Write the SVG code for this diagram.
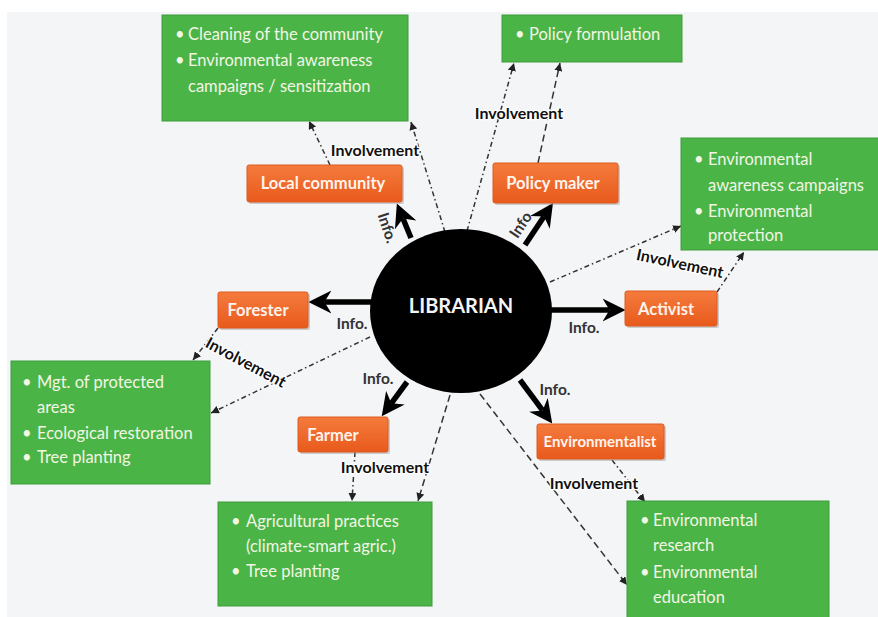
<svg xmlns="http://www.w3.org/2000/svg" width="878" height="617" viewBox="0 0 878 617">
<style>
.bg{fill:#f4f5f7}
.green rect{fill:#4bb447;stroke:#3f9c3b;stroke-width:1}
.green text{font-family:Lato,"Liberation Sans",sans-serif;font-size:16.5px;fill:#f2f6e4}
.orange .sh{fill:#9a9a9a;opacity:.45}
.orange .box{fill:url(#og);stroke:#e05a1e;stroke-width:1}
.orange text{font-family:Lato,"Liberation Sans",sans-serif;font-size:16.5px;font-weight:bold;fill:#fff4ec;text-anchor:middle}
.info{stroke:#000;stroke-width:5.5;fill:none;marker-end:url(#big)}
.inv{stroke:#333;stroke-width:1.5;fill:none;stroke-dasharray:5 3 1.5 3;marker-end:url(#small)}
.inv.d{stroke-dasharray:7 4}
.lbl{font-family:Lato,"Liberation Sans",sans-serif;font-size:16px;font-weight:bold;fill:#111;text-anchor:middle;stroke:#fff;stroke-width:2.5;paint-order:stroke}
.lbi{font-family:Lato,"Liberation Sans",sans-serif;font-size:15.5px;font-weight:bold;fill:#333;text-anchor:middle}
</style>
<defs>
<linearGradient id="og" x1="0" y1="0" x2="0" y2="1">
<stop offset="0" stop-color="#f47b3d"/>
<stop offset="1" stop-color="#e85a1c"/>
</linearGradient>
<marker id="big" viewBox="0 0 10 10" refX="3" refY="5" markerWidth="4.2" markerHeight="4.2" orient="auto" markerUnits="strokeWidth">
<path d="M0,0 L10,5 L0,10 L3,5 z" fill="#000"/>
</marker>
<marker id="small" viewBox="0 0 8 8" refX="8" refY="4" markerWidth="8" markerHeight="8" orient="auto" markerUnits="userSpaceOnUse">
<path d="M0,0 L8,4 L0,8 z" fill="#222"/>
</marker>
</defs>
<rect x="0" y="0" width="878" height="617" fill="#ffffff"/>
<rect class="bg" x="7" y="12" width="871" height="605"/>

<g id="connectors">
<line class="info" x1="411" y1="238" x2="403" y2="218.5"/>
<line class="info" x1="525" y1="245" x2="544" y2="216.5"/>
<line class="info" x1="375" y1="302" x2="324.5" y2="302"/>
<line class="info" x1="548" y1="310" x2="609.5" y2="310"/>
<line class="info" x1="407" y1="382" x2="391.3" y2="403.3"/>
<line class="info" x1="520" y1="380" x2="542.6" y2="410.4"/>

<line class="inv" x1="330" y1="165" x2="309" y2="121"/>
<line class="inv" x1="445" y1="232" x2="411" y2="122"/>
<line class="inv d" x1="538" y1="163" x2="560" y2="63"/>
<line class="inv" x1="467" y1="231" x2="514" y2="63"/>
<line class="inv" x1="550" y1="282" x2="681" y2="226"/>
<line class="inv" x1="717" y1="292" x2="744" y2="252"/>
<line class="inv" x1="218" y1="328" x2="193" y2="360"/>
<line class="inv" x1="370" y1="337" x2="211" y2="413"/>
<line class="inv" x1="355" y1="452" x2="352" y2="501"/>
<line class="inv d" x1="450" y1="395" x2="418" y2="501"/>
<line class="inv" x1="612" y1="460" x2="645" y2="502"/>
<line class="inv d" x1="480" y1="394" x2="627" y2="585"/>

<text class="lbi" x="387" y="233" transform="rotate(72 387 228)">Info.</text>
<text class="lbi" x="521" y="230" transform="rotate(-56 521 225)">Info</text>
<text class="lbi" x="352" y="329">Info.</text>
<text class="lbi" x="584" y="333">Info.</text>
<text class="lbi" x="378" y="384">Info.</text>
<text class="lbi" x="555" y="395">Info.</text>

<text class="lbl" x="375" y="156">Involvement</text>
<text class="lbl" x="519" y="119">Involvement</text>
<text class="lbl" x="680" y="269" transform="rotate(12 680 263)">Involvement</text>
<text class="lbl" x="246" y="368" transform="rotate(28 246 362)">Involvement</text>
<text class="lbl" x="385" y="473">Involvement</text>
<text class="lbl" x="594" y="489">Involvement</text>
</g>

<g id="librarian">
<ellipse cx="461" cy="311" rx="91" ry="82" fill="#000"/>
<text x="461" y="313" font-family="Lato,'Liberation Sans',sans-serif" font-size="20" font-weight="bold" fill="#f4f4f4" text-anchor="middle">LIBRARIAN</text>
</g>

<g id="local-community" class="orange">
<rect class="sh" x="249" y="167" width="155" height="37" rx="2"/>
<rect class="box" x="247" y="165" width="155" height="37" rx="2"/>
<text x="323" y="189">Local community</text>
</g>
<g id="policy-maker" class="orange">
<rect class="sh" x="495" y="165" width="125" height="40" rx="2"/>
<rect class="box" x="493" y="163" width="125" height="40" rx="2"/>
<text x="553" y="189">Policy maker</text>
</g>
<g id="activist" class="orange">
<rect class="sh" x="627" y="293" width="92" height="35" rx="2"/>
<rect class="box" x="625" y="291" width="92" height="35" rx="2"/>
<text x="666" y="315">Activist</text>
</g>
<g id="forester" class="orange">
<rect class="sh" x="220" y="294" width="90" height="36" rx="2"/>
<rect class="box" x="218" y="292" width="90" height="36" rx="2"/>
<text x="258" y="316">Forester</text>
</g>
<g id="farmer" class="orange">
<rect class="sh" x="300" y="419" width="90" height="35" rx="2"/>
<rect class="box" x="298" y="417" width="90" height="35" rx="2"/>
<text x="333" y="441">Farmer</text>
</g>
<g id="environmentalist" class="orange">
<rect class="sh" x="539" y="426" width="127" height="35" rx="2"/>
<rect class="box" x="537" y="424" width="127" height="35" rx="2"/>
<text x="600" y="447" style="font-size:15px">Environmentalist</text>
</g>

<g id="box-local" class="green">
<rect x="162" y="15" width="246" height="106"/>
<text x="175" y="40">•</text><text x="188" y="40">Cleaning of the community</text>
<text x="175" y="66">•</text><text x="188" y="66">Environmental awareness</text>
<text x="188" y="92">campaigns / sensitization</text>
</g>
<g id="box-policy" class="green">
<rect x="502" y="15" width="180" height="47"/>
<text x="515" y="40">•</text><text x="529" y="40">Policy formulation</text>
</g>
<g id="box-activist" class="green">
<rect x="681" y="138" width="200" height="112"/>
<text x="694" y="165">•</text><text x="708" y="165">Environmental</text>
<text x="708" y="191">awareness campaigns</text>
<text x="694" y="217">•</text><text x="708" y="217">Environmental</text>
<text x="708" y="241">protection</text>
</g>
<g id="box-forester" class="green">
<rect x="11" y="361" width="199" height="123"/>
<text x="22" y="388">•</text><text x="37" y="388">Mgt. of protected</text>
<text x="37" y="413">areas</text>
<text x="22" y="439">•</text><text x="37" y="439">Ecological restoration</text>
<text x="22" y="463">•</text><text x="37" y="463">Tree planting</text>
</g>
<g id="box-farmer" class="green">
<rect x="218" y="502" width="214" height="104"/>
<text x="231" y="527">•</text><text x="246" y="527">Agricultural practices</text>
<text x="246" y="552">(climate-smart agric.)</text>
<text x="231" y="577">•</text><text x="246" y="577">Tree planting</text>
</g>
<g id="box-environmentalist" class="green">
<rect x="627" y="501" width="202" height="120"/>
<text x="640" y="526">•</text><text x="653" y="526">Environmental</text>
<text x="653" y="551">research</text>
<text x="640" y="578">•</text><text x="653" y="578">Environmental</text>
<text x="653" y="603">education</text>
</g>
</svg>
